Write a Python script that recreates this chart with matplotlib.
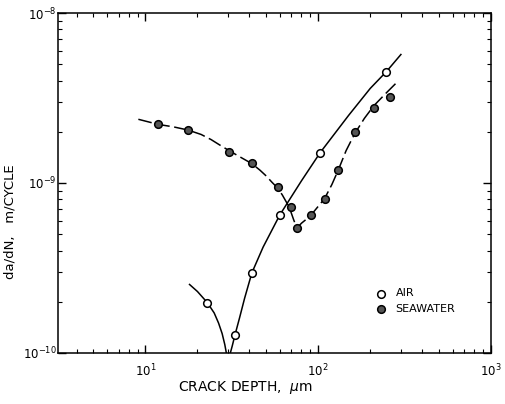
import matplotlib.pyplot as plt
from matplotlib.ticker import LogLocator, NullFormatter, FixedLocator, FixedFormatter

# Data
air_x = [22.8, 33.0, 41.3, 60.1, 102.7, 248]
air_y = [1.98e-10, 1.28e-10, 2.96e-10, 6.5e-10, 1.51e-9, 4.52e-9]

sea_x = [11.9, 17.6, 30.5, 41.3, 58.5, 70, 75.2, 90.7, 108.8, 131, 162.6, 210, 260]
sea_y = [2.21e-9, 2.05e-9, 1.52e-9, 1.31e-9, 9.44e-10, 7.26e-10, 5.43e-10,
         6.46e-10, 8.09e-10, 1.2e-9, 2.0e-9, 2.75e-9, 3.22e-9]

# fitted curves
air_fit1_x = [18, 20, 22.8, 25, 26.5, 27.8, 28.8, 29.4]
air_fit1_y = [2.53e-10, 2.3e-10, 1.98e-10, 1.72e-10, 1.5e-10, 1.3e-10, 1.12e-10, 1.0e-10]
air_fit2_x = [31.0, 31.8, 33.0, 35.0, 37.5, 41.3, 48, 60, 80, 102.7, 150, 200, 248, 301]
air_fit2_y = [1.0e-10, 1.1e-10, 1.28e-10, 1.6e-10, 2.1e-10, 2.96e-10, 4.2e-10, 6.5e-10,
              1.03e-9, 1.51e-9, 2.5e-9, 3.6e-9, 4.52e-9, 5.7e-9]

sea_fit_x = [9.1, 11.9, 14.5, 17.6, 21, 24, 27, 30.5, 35, 41.3, 46, 50, 54, 58.5, 62,
             66, 69, 72, 75.2, 80, 85, 90.7, 99, 108.8, 120, 131, 145, 162.6, 185,
             210, 245, 281]
sea_fit_y = [2.37e-9, 2.21e-9, 2.14e-9, 2.05e-9, 1.93e-9, 1.8e-9, 1.67e-9, 1.55e-9,
             1.43e-9, 1.3e-9, 1.19e-9, 1.1e-9, 1.01e-9, 9.3e-10, 8.5e-10, 7.6e-10,
             6.9e-10, 6.1e-10, 5.43e-10, 5.8e-10, 6.1e-10, 6.46e-10, 7.2e-10, 8.09e-10,
             9.8e-10, 1.2e-9, 1.55e-9, 1.95e-9, 2.4e-9, 2.85e-9, 3.35e-9, 3.85e-9]

fig = plt.figure(figsize=(5.05, 4.04), dpi=100)
ax = fig.add_axes([58 / 505, 1 - 353 / 404, (491 - 58) / 505, (353 - 13) / 404])

ax.plot(air_fit1_x, air_fit1_y, color='black', linewidth=1.1)
ax.plot(air_fit2_x, air_fit2_y, color='black', linewidth=1.1)
ax.plot(sea_fit_x, sea_fit_y, color='black', linewidth=1.1, dashes=(9, 3))

ax.plot(air_x, air_y, 'o', markerfacecolor='white', markeredgecolor='black',
        markersize=5.5, markeredgewidth=1.1, linestyle='none', zorder=3)
ax.plot(sea_x, sea_y, 'o', markerfacecolor='#555555', markeredgecolor='black',
        markersize=5.5, markeredgewidth=1.1, linestyle='none', zorder=3)

ax.set_xscale('log')
ax.set_yscale('log')
ax.set_xlim(10 ** 0.494, 1000)
ax.set_ylim(1e-10, 1e-8)

ax.xaxis.set_major_locator(FixedLocator([10, 100, 1000]))
ax.xaxis.set_major_formatter(FixedFormatter(['$10^1$', '$10^2$', '$10^3$']))
ax.yaxis.set_major_locator(FixedLocator([1e-10, 1e-9, 1e-8]))
ax.yaxis.set_major_formatter(FixedFormatter(['$10^{-10}$', '$10^{-9}$', '$10^{-8}$']))
ax.xaxis.set_minor_locator(LogLocator(base=10, subs=range(2, 10)))
ax.yaxis.set_minor_locator(LogLocator(base=10, subs=range(2, 10)))
ax.xaxis.set_minor_formatter(NullFormatter())
ax.yaxis.set_minor_formatter(NullFormatter())
ax.tick_params(which='both', direction='in', top=True, right=True, labelsize=8.5)
ax.tick_params(which='major', length=6, width=1)
ax.tick_params(which='minor', length=3, width=0.8)
ax.tick_params(axis='x', pad=7)
ax.tick_params(axis='y', pad=1)
for s in ax.spines.values():
    s.set_linewidth(1.1)

ax.set_xlabel('CRACK DEPTH,  $\\mu$m', fontsize=10)
ax.xaxis.set_label_coords((246 - 58) / 433, -0.075)
ax.set_ylabel('da/dN,   m/CYCLE', fontsize=9.5)
ax.yaxis.set_label_coords(-0.095, 1 - (222 - 13) / 340)

# legend
ax.plot([0.745], [0.175], 'o', transform=ax.transAxes, markerfacecolor='white',
        markeredgecolor='black', markersize=5.5, markeredgewidth=1.1)
ax.text(0.78, 0.175, 'AIR', transform=ax.transAxes, fontsize=8, va='center')
ax.plot([0.745], [0.13], 'o', transform=ax.transAxes, markerfacecolor='#555555',
        markeredgecolor='black', markersize=5.5, markeredgewidth=1.1)
ax.text(0.78, 0.13, 'SEAWATER', transform=ax.transAxes, fontsize=8, va='center')

plt.savefig('out.png', dpi=100)
